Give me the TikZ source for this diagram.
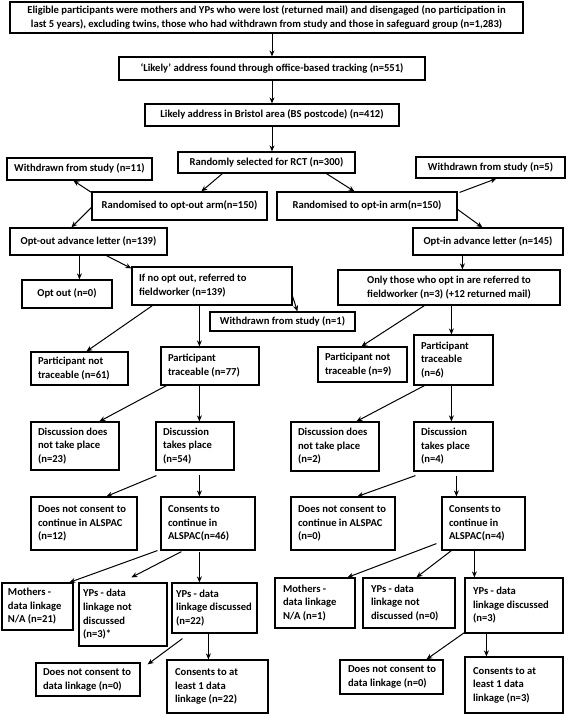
\documentclass[tikz,border=0pt]{standalone}
\usepackage{fontspec}
\setmainfont{Carlito}
\usetikzlibrary{calc,arrows.meta}
\newcommand\cbx[6]{%
  \pgfmathsetmacro\bw{#4-#2}\pgfmathsetmacro\bh{#5-#3}%
  \node[box,minimum width=\bw pt,minimum height=\bh pt] (#1) at ({(#2+#4)/2},{(#3+#5)/2})
    {\begin{tabular}{@{}c@{}}#6\end{tabular}};}
\newcommand\lbx[7][7]{%
  \pgfmathsetmacro\bw{#5-#3}\pgfmathsetmacro\bh{#6-#4}\pgfmathsetmacro\tw{#5-#3-2*#1}%
  \node[box,minimum width=\bw pt,minimum height=\bh pt] (#2) at ({(#3+#5)/2},{(#4+#6)/2})
    {\makebox[\tw pt][l]{\begin{tabular}{@{}l@{}}#7\end{tabular}}};}
\begin{document}
\begin{tikzpicture}[x=1pt,y=-1pt,
  box/.style={draw, line width=1.2pt, inner sep=0pt, font=\fontsize{10.6}{13.6}\selectfont\bfseries},
  arr/.style={line width=1pt, -{Stealth[length=6pt,width=5pt]}}]
\useasboundingbox (0,0) rectangle (567,714);
% boxes
\cbx{top}{10}{2}{523}{33}{Eligible participants were mothers and YPs who were lost (returned mail) and disengaged (no participation in\\ last 5 years), excluding twins, those who had withdrawn from study and those in safeguard group (n=1,283)}
\cbx{likely}{119}{57}{425}{80}{‘Likely’ address found through office-based tracking (n=551)}
\cbx{bristol}{145}{104}{399}{126}{Likely address in Bristol area (BS postcode) (n=412)}
\cbx{rct}{178}{152}{355}{173}{Randomly selected for RCT (n=300)}
\cbx{wd11}{7}{158}{152}{180}{Withdrawn from study (n=11)}
\cbx{wd5}{416}{157}{565}{178}{Withdrawn from study (n=5)}
\cbx{optoutarm}{92}{192}{267}{220}{Randomised to opt-out arm(n=150)}
\cbx{optinarm}{277}{192}{457}{220}{Randomised to opt-in arm(n=150)}
\cbx{optoutletter}{10}{228}{167}{255}{Opt-out advance letter (n=139)}
\cbx{optinletter}{413}{228}{563}{255}{Opt-in advance letter (n=145)}
\cbx{optout0}{22}{280}{112}{308}{Opt out (n=0)}
\lbx{ifno}{132}{267}{292}{305}{If no opt out, referred to\\fieldworker (n=139)}
\cbx{wd1}{210}{312}{355}{331}{Withdrawn from study (n=1)}
\cbx{onlyopt}{338}{270}{560}{305}{Only those who opt in are referred to\\fieldworker (n=3) (+12 returned mail)}
\lbx{notrace61}{31}{352}{128}{385}{Participant not\\traceable (n=61)}
\lbx{trace77}{161}{347}{259}{385}{Participant\\traceable (n=77)}
\lbx{notrace9}{318}{347}{407}{382}{Participant not\\traceable (n=9)}
\lbx{trace6}{414}{335}{493}{385}{Participant\\traceable\\(n=6)}
\lbx{disc23}{31}{422}{119}{470}{Discussion does\\not take place\\(n=23)}
\lbx{disc54}{156}{422}{234}{470}{Discussion\\takes place\\(n=54)}
\lbx{disc2}{291}{422}{379}{471}{Discussion does\\not take place\\(n=2)}
\lbx{disc4}{414}{422}{493}{471}{Discussion\\takes place\\(n=4)}
\lbx{nocons12}{31}{497}{137}{550}{Does not consent to\\continue in ALSPAC\\(n=12)}
\lbx{cons46}{161}{497}{255}{550}{Consents to\\continue in\\ALSPAC(n=46)}
\lbx{nocons0}{291}{497}{395}{550}{Does not consent to\\continue in ALSPAC\\(n=0)}
\lbx{cons4}{442}{497}{525}{550}{Consents to\\continue in\\ALSPAC(n=4)}
\lbx[6]{moth21}{2}{583}{73}{630}{Mothers -\\data linkage\\N/A (n=21)}
\lbx[4]{ypnot3}{79}{583}{167}{646}{YPs - data\\linkage not\\discussed\\(n=3)*}
\lbx[4]{ypdisc22}{172}{583}{257}{633}{YPs - data\\linkage discussed\\(n=22)}
\lbx{nodl0L}{36}{663}{140}{696}{Does not consent to\\data linkage (n=0)}
\lbx[8]{cons22}{167}{660}{268}{713}{Consents to at\\least 1 data\\linkage (n=22)}
\lbx[8]{moth1}{275}{578}{355}{628}{Mothers -\\data linkage\\N/A (n=1)}
\lbx[8]{ypnot0}{363}{578}{455}{628}{YPs - data\\linkage not\\discussed (n=0)}
\lbx[8]{ypdisc3}{465}{578}{563}{633}{YPs - data\\linkage discussed\\(n=3)}
\lbx[8]{nodl0R}{340}{660}{443}{694}{Does not consent to\\data linkage (n=0)}
\lbx[8]{cons3}{465}{657}{563}{713}{Consents to at\\least 1 data\\linkage (n=3)}
% arrows
\draw[arr] ($(top.south)+(5.5,0)$) -- (likely.north);
\draw[arr] (likely.south) -- (bristol.north);
\draw[arr] (bristol.south) -- ($(rct.north)+(5.5,0)$);
\draw[arr] ($(rct.south west)+(45,0)$) -- ($(optoutarm.north west)+(110,0)$);
\draw[arr] ($(rct.south west)+(149,0)$) -- ($(optinarm.north west)+(78,0)$);
\draw[arr] ($(optoutarm.north west)+(0,1)$) -- ($(wd11.south west)+(67,0)$);
\draw[arr] ($(optoutarm.north west)+(0,16)$) -- ($(optoutletter.north west)+(62,0)$);
\draw[arr] ($(optinarm.north east)+(2,1)$) -- ($(wd5.south west)+(81,0)$);
\draw[arr] ($(optinarm.north east)+(0,18)$) -- ($(optinletter.north west)+(70,0)$);
\draw[arr] ($(optoutletter.south west)+(70,0)$) -- ($(optout0.north west)+(58,0)$);
\draw[arr] ($(optoutletter.south west)+(97,0)$) -- ($(ifno.north west)+(0,2)$);
\draw[arr] ($(optinletter.south west)+(50,0)$) -- ($(onlyopt.north west)+(125,0)$);
\draw[arr] ($(ifno.north east)+(0,30)$) -- ($(wd1.north west)+(88,0)$);
\draw[arr] ($(ifno.south west)+(21,0)$) -- ($(notrace61.north west)+(56,0)$);
\draw[arr] ($(ifno.south west)+(68,0)$) -- ($(trace77.north west)+(39,0)$);
\draw[arr] ($(onlyopt.south west)+(87,0)$) -- ($(notrace9.north west)+(44,0)$);
\draw[arr] ($(onlyopt.south west)+(114,0)$) -- ($(trace6.north west)+(38,0)$);
\draw[arr] ($(trace77.south west)+(6,0)$) -- ($(disc23.north west)+(69,0)$);
\draw[arr] ($(trace77.south west)+(39,0)$) -- ($(disc54.north west)+(44,0)$);
\draw[arr] ($(trace6.south west)+(11,0)$) -- ($(disc2.north west)+(66,0)$);
\draw[arr] ($(trace6.south west)+(38,0)$) -- ($(disc4.north west)+(38,0)$);
\draw[arr] ($(disc54.south west)+(1,5)$) -- ($(nocons12.north west)+(76,0)$);
\draw[arr] ($(disc54.south west)+(44,4)$) -- ($(cons46.north west)+(39,0)$);
\draw[arr] ($(disc4.south west)+(2,4)$) -- ($(nocons0.north west)+(67,0)$);
\draw[arr] ($(disc4.south west)+(43,4)$) -- ($(cons4.north west)+(15,0)$);
\draw[arr] ($(cons46.south west)+(-3,0)$) -- ($(moth21.north west)+(68,0)$);
\draw[arr] ($(cons46.south west)+(21,1)$) -- ($(ypnot3.north west)+(53,-5)$);
\draw[arr] ($(cons46.south west)+(39,1)$) -- ($(ypdisc22.north west)+(28,0)$);
\draw[arr] ($(cons4.south west)+(-5,-7)$) -- ($(moth1.north west)+(73,0)$);
\draw[arr] ($(cons4.south west)+(10,0)$) -- ($(ypnot0.north west)+(54,0)$);
\draw[arr] ($(cons4.south west)+(33,0)$) -- ($(ypdisc3.north west)+(10,0)$);
\draw[arr] ($(ypdisc22.south west)+(11,5)$) -- ($(nodl0L.north east)+(7,2)$);
\draw[arr] ($(ypdisc22.south west)+(37,0)$) -- ($(cons22.north west)+(42,0)$);
\draw[arr] ($(ypdisc3.south west)+(0,-1)$) -- ($(nodl0R.north west)+(87,0)$);
\draw[arr] ($(ypdisc3.south west)+(22,0)$) -- ($(cons3.north west)+(22,0)$);
\end{tikzpicture}
\end{document}
